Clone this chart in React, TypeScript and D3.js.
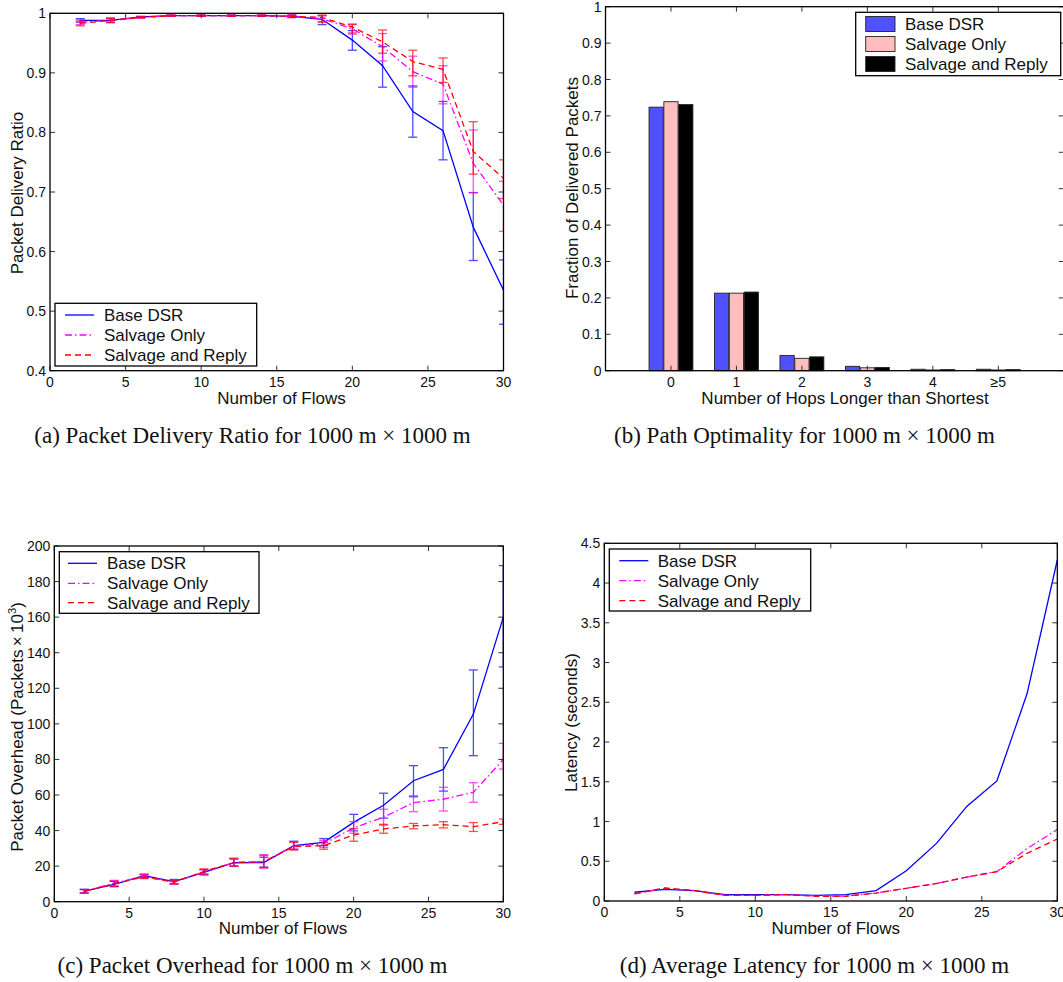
import React from 'react';
import * as d3 from 'd3';

const flows = [2, 4, 6, 8, 10, 12, 14, 16, 18, 20, 22, 24, 26, 28, 30];
const flowTicks = [0, 5, 10, 15, 20, 25, 30];

// (a) Packet delivery ratio
const pdrBase = [0.988, 0.988, 0.994, 0.996, 0.996, 0.996, 0.996, 0.995, 0.990, 0.955, 0.912, 0.835, 0.803, 0.641, 0.535];
const pdrBaseLo = [0.985, 0.985, 0.993, 0.995, 0.995, 0.995, 0.995, 0.993, 0.981, 0.938, 0.876, 0.792, 0.754, 0.585, 0.478];
const pdrBaseHi = [0.991, 0.992, 0.995, 0.997, 0.997, 0.997, 0.997, 0.997, 0.996, 0.971, 0.944, 0.878, 0.852, 0.699, 0.586];
const pdrSalv = [0.985, 0.988, 0.993, 0.996, 0.996, 0.996, 0.996, 0.995, 0.991, 0.974, 0.944, 0.902, 0.881, 0.748, 0.678];
const pdrSalvLo = [0.981, 0.984, 0.992, 0.995, 0.995, 0.995, 0.995, 0.993, 0.986, 0.965, 0.920, 0.876, 0.848, 0.699, 0.634];
const pdrSalvHi = [0.989, 0.992, 0.994, 0.997, 0.997, 0.997, 0.997, 0.997, 0.996, 0.981, 0.966, 0.928, 0.912, 0.804, 0.718];
const pdrReply = [0.983, 0.988, 0.993, 0.996, 0.996, 0.996, 0.996, 0.995, 0.993, 0.977, 0.952, 0.919, 0.906, 0.768, 0.723];
const pdrReplyLo = [0.979, 0.985, 0.992, 0.995, 0.995, 0.995, 0.995, 0.993, 0.985, 0.967, 0.933, 0.895, 0.884, 0.730, 0.689];
const pdrReplyHi = [0.987, 0.991, 0.994, 0.997, 0.997, 0.997, 0.997, 0.997, 0.999, 0.982, 0.972, 0.938, 0.925, 0.818, 0.754];
const pdrTicks = [0.4, 0.5, 0.6, 0.7, 0.8, 0.9, 1];

// (b) Path optimality
const hopCats = ['0', '1', '2', '3', '4', '\u22655'];
const hopBase = [0.724, 0.213, 0.042, 0.012, 0.004, 0.004];
const hopSalv = [0.739, 0.213, 0.034, 0.008, 0.002, 0.002];
const hopReply = [0.731, 0.216, 0.038, 0.009, 0.003, 0.003];
const hopYTicks = [0, 0.1, 0.2, 0.3, 0.4, 0.5, 0.6, 0.7, 0.8, 0.9, 1];

// (c) Packet overhead
const ovBase = [6.0, 9.8, 14.6, 11.3, 16.5, 21.9, 22.0, 31.5, 33.4, 44.6, 54.2, 68.0, 74.4, 105.5, 160];
const ovBaseLo = [5, 8.5, 13.5, 10, 15, 20, 19.5, 29.5, 31.5, 39.8, 47, 59, 62.2, 82.1, 132];
const ovBaseHi = [7, 11.5, 15.5, 12.5, 18, 24, 25, 34, 35.5, 49.1, 61, 76.5, 86.6, 130.3, 189];
const ovSalv = [5.8, 10.5, 14.3, 11, 16.8, 22, 22.5, 31.3, 32.5, 41.5, 47.5, 55.7, 57.6, 61.5, 80];
const ovSalvLo = [4.8, 9, 13.3, 10, 15.5, 20, 19, 29.5, 30.5, 38.5, 43, 50.6, 51, 55.9, 74.6];
const ovSalvHi = [6.8, 12, 15.3, 12, 18, 24, 26.5, 33.5, 34.5, 45, 52, 59.6, 64.3, 66.9, 89];
const ovReply = [5.8, 10, 14, 11, 17, 22, 22.5, 31, 31.5, 37.5, 40.9, 42.6, 43.3, 42.2, 45];
const ovReplyLo = [4.8, 8.5, 13, 10, 15.5, 20, 19, 29, 29.5, 34, 38.5, 41, 41.5, 39.5, 43.5];
const ovReplyHi = [6.8, 11.5, 15, 12, 18.5, 24.5, 26, 33.5, 33.5, 41, 43.5, 44, 45, 44.5, 46.5];
const ovTicks = [0, 20, 40, 60, 80, 100, 120, 140, 160, 180, 200];

// (d) Latency
const latBase = [0.11, 0.145, 0.13, 0.08, 0.08, 0.08, 0.07, 0.08, 0.13, 0.38, 0.725, 1.19, 1.51, 2.61, 4.29];
const latSalv = [0.09, 0.16, 0.13, 0.07, 0.07, 0.08, 0.065, 0.06, 0.10, 0.16, 0.22, 0.30, 0.37, 0.66, 0.90];
const latReply = [0.09, 0.165, 0.13, 0.07, 0.07, 0.08, 0.06, 0.06, 0.10, 0.16, 0.22, 0.30, 0.37, 0.60, 0.78];
const latTicks = [0, 0.5, 1, 1.5, 2, 2.5, 3, 3.5, 4, 4.5];

const seriesNames = ['Base DSR', 'Salvage Only', 'Salvage and Reply'];
const lineColors = ['#0000ff', '#ff00ff', '#ff0000'];
const lineDashes = ['none', '7,3,1.5,3', '6,4'];
const barColors = ['#5050ff', '#ffbdbd', '#000000'];

const SANS = '"Liberation Sans", Arial, Helvetica, sans-serif';
const SERIF = '"Liberation Serif", "Times New Roman", Times, serif';
const fmt = d3.format('~g');
const TICK = 5;

type Series = { values: number[]; lo?: number[]; hi?: number[]; color: string; dash: string; name: string };

function Frame({ left, right, top, bottom }: any) {
  return <rect x={left} y={top} width={right - left} height={bottom - top} fill="none" stroke="#000" strokeWidth={1.3} />;
}

function LinePanel(props: any) {
  const { id, left, right, top, bottom, yDomain, yTicks, series, legend, yLabel, yLabelX, yLabelY, xLabelX, xLabelY } = props;
  const x = d3.scaleLinear().domain([0, 30]).range([left, right]);
  const y = d3.scaleLinear().domain(yDomain).range([bottom, top]);
  const lineGen = d3.line<number>().x((_, i) => x(flows[i])).y((d) => y(d));
  return (
    <g>
      <defs>
        <clipPath id={id}>
          <rect x={left} y={top} width={right - left} height={bottom - top} />
        </clipPath>
      </defs>
      <g clipPath={`url(#${id})`}>
        {(series as Series[]).map((s, si) => (
          <g key={si}>
            {s.lo && s.hi && flows.map((f, i) => (
              <g key={i} stroke={s.color} strokeWidth={1.3} opacity={0.7}>
                <line x1={x(f)} x2={x(f)} y1={y(s.lo![i])} y2={y(s.hi![i])} />
                <line x1={x(f) - 4.5} x2={x(f) + 4.5} y1={y(s.lo![i])} y2={y(s.lo![i])} />
                <line x1={x(f) - 4.5} x2={x(f) + 4.5} y1={y(s.hi![i])} y2={y(s.hi![i])} />
              </g>
            ))}
            <path d={lineGen(s.values) || ''} fill="none" stroke={s.color} strokeWidth={1.3} strokeDasharray={s.dash} />
          </g>
        ))}
      </g>
      <g stroke="#333" strokeWidth={1}>
        {flowTicks.map((t) => (
          <g key={'x' + t}>
            <line x1={x(t)} x2={x(t)} y1={bottom} y2={bottom - TICK} />
            <line x1={x(t)} x2={x(t)} y1={top} y2={top + TICK} />
          </g>
        ))}
        {(yTicks as number[]).map((t) => (
          <g key={'y' + t}>
            <line x1={left} x2={left + TICK} y1={y(t)} y2={y(t)} />
            <line x1={right} x2={right - TICK} y1={y(t)} y2={y(t)} />
          </g>
        ))}
      </g>
      <Frame left={left} right={right} top={top} bottom={bottom} />
      <g fontFamily={SANS} fontSize={14} fill="#111">
        {flowTicks.map((t) => (
          <text key={'xl' + t} x={x(t)} y={bottom + 16} textAnchor="middle">{fmt(t)}</text>
        ))}
        {(yTicks as number[]).map((t) => (
          <text key={'yl' + t} x={left - 4} y={y(t) + 5} textAnchor="end">{fmt(t)}</text>
        ))}
      </g>
      <text x={xLabelX} y={xLabelY} textAnchor="middle" fontFamily={SANS} fontSize={17} fill="#111">Number of Flows</text>
      <g transform={`translate(${yLabelX},${yLabelY}) rotate(-90)`}>
        <text textAnchor="middle" fontFamily={SANS} fontSize={17} fill="#111">{yLabel}</text>
      </g>
      <rect x={legend.x} y={legend.y} width={legend.w} height={legend.h} fill="#fff" stroke="#000" strokeWidth={1.3} />
      {(series as Series[]).map((s, i) => (
        <g key={'lg' + i}>
          <line x1={legend.lx1} x2={legend.lx2} y1={legend.rows[i]} y2={legend.rows[i]} stroke={s.color} strokeWidth={1.3} strokeDasharray={s.dash} />
          <text x={legend.tx} y={legend.rows[i] + 6} fontFamily={SANS} fontSize={17} fill="#111">{s.name}</text>
        </g>
      ))}
    </g>
  );
}

function BarPanel() {
  const left = 605.5, right = 1063.8, top = 6.7, bottom = 370.7;
  const x = d3.scaleLinear().domain([-1, 6]).range([left, right]);
  const y = d3.scaleLinear().domain([0, 1]).range([bottom, top]);
  const off = d3.scaleBand().domain(['0', '1', '2']).range([-0.335, 0.335]).paddingInner(0.04);
  const groups = [hopBase, hopSalv, hopReply];
  return (
    <g>
      {groups.map((vals, si) =>
        vals.map((v, ci) => {
          const x0 = x(ci + (off(String(si)) as number));
          const w = x(ci + (off(String(si)) as number) + off.bandwidth()) - x0;
          return (
            <rect key={si + '-' + ci} x={x0} y={y(v)} width={w} height={y(0) - y(v)} fill={barColors[si]} stroke="#222" strokeWidth={0.9} />
          );
        })
      )}
      <g stroke="#333" strokeWidth={1}>
        {hopCats.map((_, i) => (
          <g key={'x' + i}>
            <line x1={x(i)} x2={x(i)} y1={bottom} y2={bottom - TICK} />
            <line x1={x(i)} x2={x(i)} y1={top} y2={top + TICK} />
          </g>
        ))}
        {hopYTicks.map((t) => (
          <g key={'y' + t}>
            <line x1={left} x2={left + TICK} y1={y(t)} y2={y(t)} />
            <line x1={right} x2={right - TICK} y1={y(t)} y2={y(t)} />
          </g>
        ))}
      </g>
      <Frame left={left} right={right} top={top} bottom={bottom} />
      <g fontFamily={SANS} fontSize={14} fill="#111">
        {hopCats.map((c, i) => (
          <text key={'xl' + i} x={x(i)} y={bottom + 16} textAnchor="middle">{c}</text>
        ))}
        {hopYTicks.map((t) => (
          <text key={'yl' + t} x={left - 4} y={y(t) + 5} textAnchor="end">{fmt(t)}</text>
        ))}
      </g>
      <text x={845} y={404} textAnchor="middle" fontFamily={SANS} fontSize={17} fill="#111">Number of Hops Longer than Shortest</text>
      <g transform={`translate(578,188) rotate(-90)`}>
        <text textAnchor="middle" fontFamily={SANS} fontSize={17} fill="#111">Fraction of Delivered Packets</text>
      </g>
      <rect x={855.7} y={12.3} width={205} height={63.4} fill="#fff" stroke="#000" strokeWidth={1.3} />
      {seriesNames.map((n, i) => (
        <g key={'lg' + i}>
          <rect x={865.7} y={24 + i * 20 - 7.5} width={29.3} height={15} fill={barColors[i]} stroke="#222" strokeWidth={0.9} />
          <text x={905} y={24 + i * 20 + 6} fontFamily={SANS} fontSize={17} fill="#111">{n}</text>
        </g>
      ))}
    </g>
  );
}

function mk(vals: number[], lo: number[] | undefined, hi: number[] | undefined, i: number): Series {
  return { values: vals, lo, hi, color: lineColors[i], dash: lineDashes[i], name: seriesNames[i] };
}

export default function App() {
  const seriesA = [mk(pdrBase, pdrBaseLo, pdrBaseHi, 0), mk(pdrSalv, pdrSalvLo, pdrSalvHi, 1), mk(pdrReply, pdrReplyLo, pdrReplyHi, 2)];
  const seriesC = [mk(ovBase, ovBaseLo, ovBaseHi, 0), mk(ovSalv, ovSalvLo, ovSalvHi, 1), mk(ovReply, ovReplyLo, ovReplyHi, 2)];
  const seriesD = [mk(latBase, undefined, undefined, 0), mk(latSalv, undefined, undefined, 1), mk(latReply, undefined, undefined, 2)];
  return (
    <svg width={1063} height={982} style={{ position: 'absolute', left: 0, top: 0, background: '#fff' }}>
      <rect x={0} y={0} width={1063} height={982} fill="#fff" />
      <LinePanel
        id="clipA" left={50} right={503.5} top={13.3} bottom={370.7}
        yDomain={[0.4, 1]} yTicks={pdrTicks} series={seriesA}
        legend={{ x: 55, y: 303.3, w: 201.7, h: 62.7, rows: [315, 335, 355], lx1: 65, lx2: 94, tx: 104 }}
        yLabel="Packet Delivery Ratio" yLabelX={23} yLabelY={193} xLabelX={281.5} xLabelY={404}
      />
      <BarPanel />
      <LinePanel
        id="clipC" left={54.3} right={503.3} top={546} bottom={901.7}
        yDomain={[0, 200]} yTicks={ovTicks} series={seriesC}
        legend={{ x: 59.3, y: 551.7, w: 199.7, h: 61.6, rows: [563.3, 583.3, 602.7], lx1: 68, lx2: 97, tx: 107 }}
        yLabel={<>Packet Overhead (Packets{'\u2009\u00d7\u2009'}10<tspan dy={-7} fontSize={11}>3</tspan><tspan dy={7}>)</tspan></>}
        yLabelX={23} yLabelY={727} xLabelX={283} xLabelY={934}
      />
      <LinePanel
        id="clipD" left={604.3} right={1057.3} top={543.3} bottom={901}
        yDomain={[0, 4.5]} yTicks={latTicks} series={seriesD}
        legend={{ x: 609.3, y: 549, w: 201.4, h: 62, rows: [560.7, 580.7, 600.7], lx1: 619.3, lx2: 648.3, tx: 657.7 }}
        yLabel="Latency (seconds)" yLabelX={577} yLabelY={722.5} xLabelX={835.8} xLabelY={934}
      />
      <g fontFamily={SERIF} fontSize={23} fill="#111" textAnchor="middle">
        <text x={252.5} y={443}>(a) Packet Delivery Ratio for 1000 m {'\u00d7'} 1000 m</text>
        <text x={804.5} y={443}>(b) Path Optimality for 1000 m {'\u00d7'} 1000 m</text>
        <text x={252.5} y={973}>(c) Packet Overhead for 1000 m {'\u00d7'} 1000 m</text>
        <text x={814.5} y={973}>(d) Average Latency for 1000 m {'\u00d7'} 1000 m</text>
      </g>
    </svg>
  );
}
